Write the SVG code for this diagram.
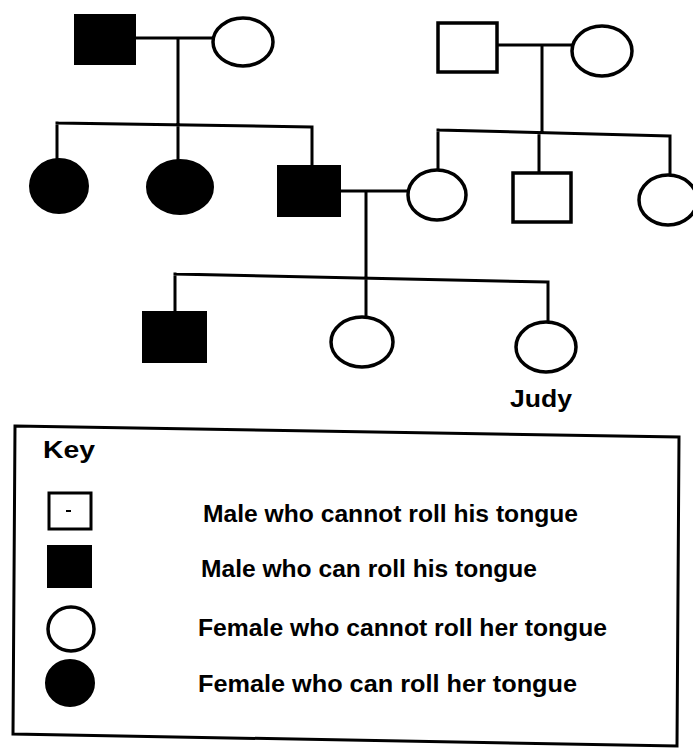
<svg xmlns="http://www.w3.org/2000/svg" width="693" height="749" viewBox="0 0 693 749">
<style>
.f{fill:#000;stroke:#000;stroke-width:2}
.o{fill:#fff;stroke:#000;stroke-width:3.5}
.ln{stroke:#000;stroke-width:3;fill:none;stroke-linecap:square}
.t{font-family:"Liberation Sans",Arial,sans-serif;font-weight:bold;fill:#000}
</style>
<rect width="693" height="749" fill="#fff"/>
<g id="connectors" class="ln">
<path d="M135 38H213M178 38V124M57 123L312 127M57 123V159M178 124V160M312 127V166"/>
<path d="M497 45H572M542 45V132M438 130L670 136M438 130V170M539 133V173M670 136V175"/>
<path d="M340 191H408M366 191V278M175 274L548 282M175 274V312M366 278V318M548 282V322"/>
</g>
<g id="gf1"><rect class="f" x="75" y="15" width="60" height="49"/></g>
<g id="gm1"><ellipse class="o" cx="243" cy="42" rx="30" ry="24"/></g>
<g id="gf2"><rect class="o" x="438" y="23" width="59" height="49"/></g>
<g id="gm2"><ellipse class="o" cx="602" cy="51" rx="30" ry="25"/></g>
<g id="d1"><ellipse class="f" cx="59" cy="186" rx="29" ry="27"/></g>
<g id="d2"><ellipse class="f" cx="180" cy="187" rx="33" ry="27"/></g>
<g id="son"><rect class="f" x="278" y="166" width="62" height="50"/></g>
<g id="wife"><ellipse class="o" cx="437" cy="195" rx="29" ry="25"/></g>
<g id="brother"><rect class="o" x="513" y="173" width="58" height="49"/></g>
<g id="sister"><ellipse class="o" cx="668" cy="200" rx="29" ry="25"/></g>
<g id="gc1"><rect class="f" x="143" y="312" width="63" height="50"/></g>
<g id="gc2"><ellipse class="o" cx="362" cy="342" rx="31" ry="25"/></g>
<g id="judy"><ellipse class="o" cx="546" cy="347" rx="30" ry="25"/>
<text class="t" x="541" y="407" font-size="24" text-anchor="middle" textLength="62" lengthAdjust="spacingAndGlyphs">Judy</text></g>
<g id="key">
<polygon points="15,426 679,437 677,746 13,734" fill="none" stroke="#000" stroke-width="3"/>
<text class="t" x="43" y="458" font-size="23" textLength="52" lengthAdjust="spacingAndGlyphs">Key</text>
<rect x="49" y="493" width="42" height="36" fill="#fff" stroke="#000" stroke-width="3"/>
<path d="M66 511H71" stroke="#000" stroke-width="2"/>
<rect class="f" x="48" y="546" width="43" height="41"/>
<ellipse class="o" cx="71" cy="629" rx="23" ry="22"/>
<ellipse class="f" cx="70" cy="683" rx="24" ry="23"/>
<text class="t" x="203" y="522" font-size="23" textLength="375" lengthAdjust="spacingAndGlyphs">Male who cannot roll his tongue</text>
<text class="t" x="201" y="577" font-size="23" textLength="336" lengthAdjust="spacingAndGlyphs">Male who can roll his tongue</text>
<text class="t" x="198" y="636" font-size="23" textLength="409" lengthAdjust="spacingAndGlyphs">Female who cannot roll her tongue</text>
<text class="t" x="198" y="692" font-size="23" textLength="379" lengthAdjust="spacingAndGlyphs">Female who can roll her tongue</text>
</g>
</svg>
